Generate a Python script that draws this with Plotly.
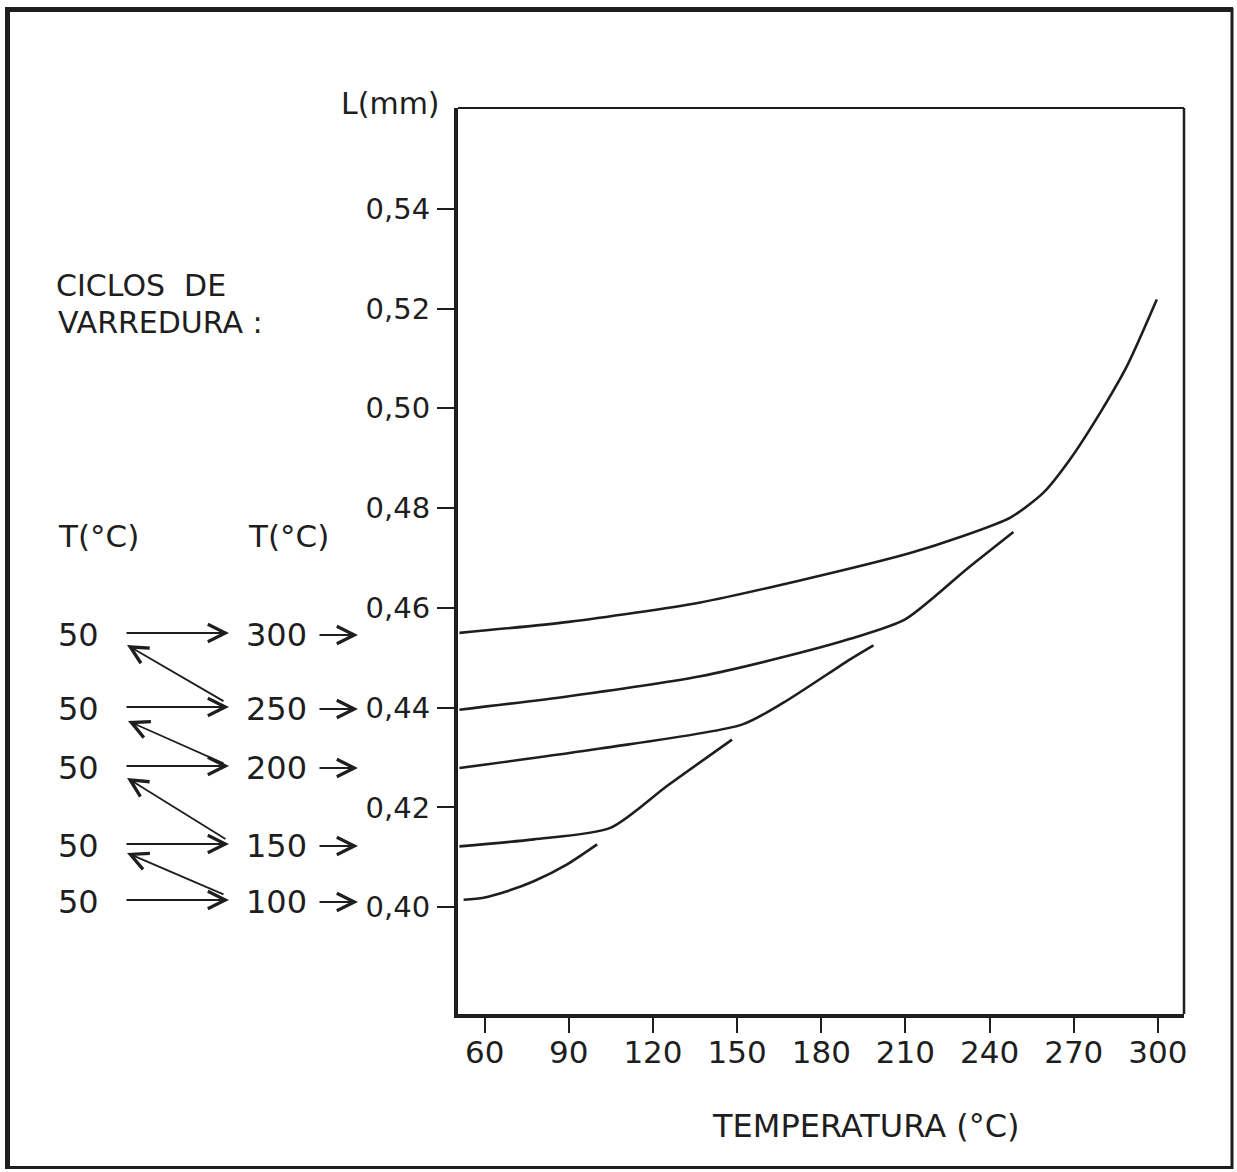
import plotly.graph_objects as go

# ---------------- data ----------------
x_ticks = [60, 90, 120, 150, 180, 210, 240, 270, 300]
y_ticks = [0.40, 0.42, 0.44, 0.46, 0.48, 0.50, 0.52, 0.54]

c100_x = [52.5, 59.6, 68.0, 77.5, 89.4, 100.1]
c100_y = [0.4015, 0.4019, 0.4032, 0.4052, 0.4086, 0.4126]

c150_x = [51.0, 77.5, 104.8, 125.0, 148.2]
c150_y = [0.4122, 0.4136, 0.4159, 0.4243, 0.4336]

c200_x = [51.0, 101.2, 151.7, 166.5, 190.3, 198.6]
c200_y = [0.4279, 0.4318, 0.4366, 0.4410, 0.4497, 0.4525]

c250_x = [51.0, 90.0, 136.9, 172.4, 190.3, 209.9, 231.9, 248.5]
c250_y = [0.4396, 0.4423, 0.4463, 0.4510, 0.4538, 0.4577, 0.4678, 0.4752]

c300_x = [51.0, 90.0, 136.9, 172.4, 211.7, 229.5, 247.4, 259.2, 268.7, 279.4, 289.0, 299.6]
c300_y = [0.4550, 0.4572, 0.4611, 0.4655, 0.4710, 0.4742, 0.4781, 0.4831, 0.4898, 0.4991, 0.5085, 0.5218]

cycle_start = ["50", "50", "50", "50", "50"]
cycle_end = ["300", "250", "200", "150", "100"]

# ---------------- layout helpers ----------------
W, H = 1237, 1172
ML, MR, MT, MB = 458, 53, 108, 158
PW, PH = W - ML - MR, H - MT - MB
INK = "#1e1e1e"
FONT = "DejaVu Sans"


def pp(px, py):
    return (px - ML) / PW, (H - MB - py) / PH


fig = go.Figure()
for xs, ys in [(c100_x, c100_y), (c150_x, c150_y), (c200_x, c200_y),
               (c250_x, c250_y), (c300_x, c300_y)]:
    fig.add_trace(go.Scatter(x=xs, y=ys, mode="lines",
                             line=dict(color=INK, width=2.6, shape="spline", smoothing=0.7),
                             showlegend=False, hoverinfo="skip"))

annotations = []


def text(s, px, py, size=31, xanchor="left"):
    x, y = pp(px, py)
    annotations.append(dict(text=s, x=x, y=y, xref="paper", yref="paper",
                            xanchor=xanchor, yanchor="middle", showarrow=False,
                            font=dict(family=FONT, size=size, color=INK)))


def arrow(tx, ty, hx, hy, width=1.8):
    x, y = pp(hx, hy)
    annotations.append(dict(text="", x=x, y=y, xref="paper", yref="paper",
                            ax=tx - hx, ay=ty - hy, showarrow=True,
                            arrowhead=5, arrowsize=1.9, arrowwidth=width,
                            arrowcolor=INK, standoff=0, startstandoff=0))


text("L(mm)", 442, 104, size=30, xanchor="right")
text("TEMPERATURA (°C)", 866, 1126, size=32, xanchor="center")
text("CICLOS  DE", 54, 285, size=30)
text("VARREDURA :", 56, 322, size=30)
text("T(°C)", 56, 536)
text("T(°C)", 246, 536)

row_y = [635, 709, 768, 846, 902]
for i, (s, e) in enumerate(zip(cycle_start, cycle_end)):
    y = row_y[i]
    text(s, 56, y, size=32)
    text(e, 244, y, size=32)
    arrow(125, y - 2, 229, y - 2)
    arrow(318, y, 358, y)
# diagonal return arrows
diag = [((225, 702), (127, 645)), ((225, 764), (128, 721)),
        ((227, 840), (127, 778)), ((225, 895), (127, 853))]
for (t, h) in diag:
    arrow(t[0], t[1], h[0], h[1])

shapes = []


def pline(x0, y0, x1, y1, w):
    a, b = pp(x0, y0)
    c, d = pp(x1, y1)
    shapes.append(dict(type="line", xref="paper", yref="paper", x0=a, y0=b, x1=c, y1=d,
                       line=dict(color=INK, width=w)))


# thin top/right plot borders
shapes.append(dict(type="line", xref="paper", yref="paper", x0=0, y0=1, x1=1, y1=1,
                   line=dict(color=INK, width=2)))
shapes.append(dict(type="line", xref="paper", yref="paper", x0=1, y0=0, x1=1, y1=1,
                   line=dict(color=INK, width=2.5)))
# outer frame
pline(5, 9.5, 1233, 9.5, 5)
pline(7.5, 7, 7.5, 1169, 5)
pline(1232, 8, 1232, 1169, 3)
pline(6, 1167.5, 1233, 1167.5, 3)

fig.update_layout(
    width=W, height=H,
    margin=dict(l=ML, r=MR, t=MT, b=MB, pad=0),
    paper_bgcolor="white", plot_bgcolor="white",
    separators=",.",
    showlegend=False,
    annotations=annotations,
    shapes=shapes,
    xaxis=dict(range=[50.5, 309.3], tickvals=x_ticks, ticks="outside", ticklen=15,
               tickwidth=2, tickcolor=INK, showline=True, linewidth=4, linecolor=INK,
               showgrid=False, zeroline=False, ticklabelstandoff=-7,
               tickfont=dict(family=FONT, size=31, color=INK)),
    yaxis=dict(range=[0.3786, 0.5602], tickvals=y_ticks, tickformat=".2f",
               ticks="outside", ticklen=17, tickwidth=2, tickcolor=INK,
               showline=True, linewidth=4, linecolor=INK, showgrid=False,
               zeroline=False, ticklabelstandoff=1,
               tickfont=dict(family=FONT, size=29, color=INK)),
)

fig.write_html("out.html", config={"displayModeBar": False},
               post_script="document.body.style.margin='0';document.body.style.overflow='hidden';")
